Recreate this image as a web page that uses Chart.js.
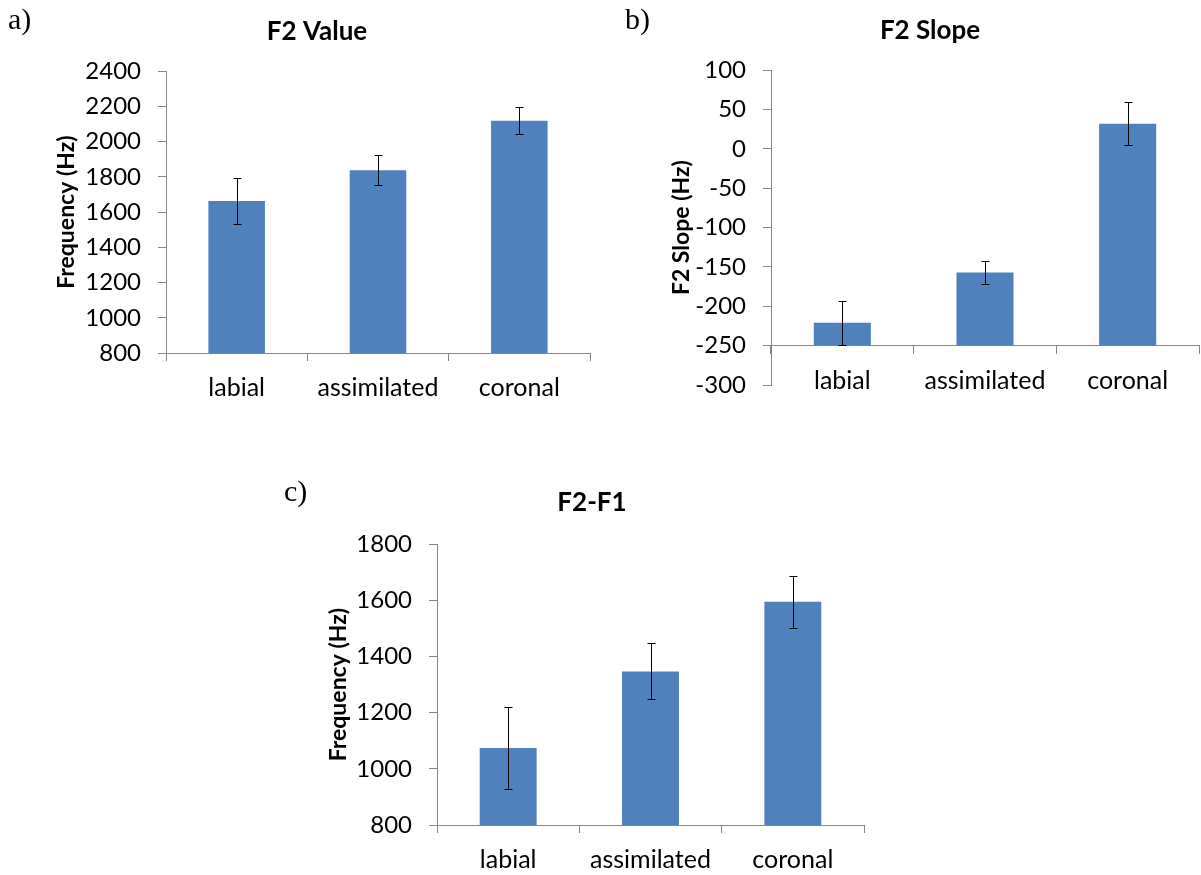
<!DOCTYPE html>
<html>
<head>
<meta charset="utf-8">
<script src="https://cdn.jsdelivr.net/npm/chart.js@4.4.1/dist/chart.umd.min.js"></script>
<style>
  body { margin: 0; background: #fff; }
  #page { position: relative; width: 1201px; height: 875px; overflow: hidden; background: #fff; }
  canvas { position: absolute; }
  .panel { position: absolute; z-index: 2; font-family: "Liberation Serif", serif; font-size: 30px; line-height: 30px; color: #000; }
</style>
</head>
<body>
<div id="page">
  <canvas id="chartA" width="634" height="420" style="left:0;top:0"></canvas>
  <canvas id="chartB" width="601" height="420" style="left:600px;top:0"></canvas>
  <canvas id="chartC" width="620" height="405" style="left:270px;top:470px"></canvas>
  <div class="panel" style="left:8px;top:4px">a)</div>
  <div class="panel" style="left:625px;top:4px">b)</div>
  <div class="panel" style="left:284px;top:476px">c)</div>
</div>
<script>
// data
const categories = ['labial', 'assimilated', 'coronal'];

const f2Value = [1663, 1837, 2119];
const f2ValueErr = [130, 85, 77];

const f2Slope = [-221, -157, 32];
const f2SlopeErr = [28, 15, 27];

const f2f1 = [1074, 1347, 1595];
const f2f1Err = [147, 100, 92];

const BAR_BLUE = '#4f81bd';
const AXIS_GREY = '#868686';

// draws the black whiskers on top of each bar
const errorBars = {
  id: 'errorBars',
  afterDatasetsDraw(chart) {
    const ctx = chart.ctx;
    const yScale = chart.scales.y;
    const ds = chart.data.datasets[0];
    const meta = chart.getDatasetMeta(0);
    ctx.save();
    ctx.strokeStyle = '#000';
    ctx.lineWidth = 1;
    meta.data.forEach((bar, i) => {
      const v = ds.data[i];
      const e = ds.errors[i];
      const x = Math.round(bar.x) + 0.5;
      const yTop = Math.round(yScale.getPixelForValue(v + e)) + 0.5;
      const yBot = Math.round(yScale.getPixelForValue(v - e)) + 0.5;
      ctx.beginPath();
      ctx.moveTo(x, yTop); ctx.lineTo(x, yBot);
      ctx.moveTo(x - 4, yTop); ctx.lineTo(x + 4, yTop);
      ctx.moveTo(x - 4, yBot); ctx.lineTo(x + 4, yBot);
      ctx.stroke();
    });
    ctx.restore();
  }
};

function makeChart(id, cfg) {
  const ctx = document.getElementById(id).getContext('2d');
  const xScale = {
    type: 'category',
    grid: { offset: true, drawOnChartArea: false, drawTicks: true, tickLength: 8, color: AXIS_GREY },
    border: { display: true, color: AXIS_GREY, width: 1 },
    ticks: { color: '#000', padding: 12, font: { family: 'Lato', size: 25 } }
  };
  if (cfg.xPosition) xScale.position = cfg.xPosition;
  if (cfg.xHeight) xScale.afterFit = s => { s.height = cfg.xHeight; };

  return new Chart(ctx, {
    type: 'bar',
    data: {
      labels: categories,
      datasets: [{
        data: cfg.values,
        errors: cfg.errors,
        base: cfg.base,
        backgroundColor: BAR_BLUE,
        borderWidth: 0,
        barPercentage: 0.4,
        categoryPercentage: 1.0
      }]
    },
    options: {
      responsive: false,
      animation: false,
      devicePixelRatio: 1,
      layout: { padding: cfg.padding },
      plugins: {
        legend: { display: false },
        tooltip: { enabled: false },
        title: {
          display: true,
          text: cfg.title,
          color: '#000',
          font: { family: 'Lato', size: 26, weight: 'bold' },
          padding: cfg.titlePadding
        }
      },
      scales: {
        x: xScale,
        y: {
          min: cfg.min,
          max: cfg.max,
          afterFit: s => { s.width = cfg.yWidth; },
          grid: { drawOnChartArea: false, drawTicks: true, tickLength: 8, color: AXIS_GREY },
          border: { display: true, color: AXIS_GREY, width: 1 },
          ticks: {
            stepSize: cfg.step, color: '#000', padding: 17,
            font: { family: 'Lato', size: 24 },
            callback: v => String(v)
          },
          title: {
            display: true,
            text: cfg.yTitle,
            color: '#000',
            font: { family: 'Lato', size: 23, weight: 'bold' },
            padding: { top: cfg.yTitlePad, bottom: 0 }
          }
        }
      }
    },
    plugins: [errorBars]
  });
}

makeChart('chartA', {
  title: 'F2 Value', yTitle: 'Frequency (Hz)',
  values: f2Value, errors: f2ValueErr,
  min: 800, max: 2400, step: 200,
  padding: { left: 44, right: 44, top: 0, bottom: 0 },
  titlePadding: { top: 16, bottom: 24 },
  yWidth: 122, yTitlePad: 9, xHeight: 67
});

makeChart('chartB', {
  title: 'F2 Slope', yTitle: 'F2 Slope (Hz)',
  values: f2Slope, errors: f2SlopeErr, base: -250,
  min: -300, max: 100, step: 50,
  padding: { left: 61, right: 2, top: 0, bottom: 35 },
  titlePadding: { top: 15, bottom: 24 },
  yWidth: 110, yTitlePad: 7,
  xPosition: { y: -250 }
});

makeChart('chartC', {
  title: 'F2-F1', yTitle: 'Frequency (Hz)',
  values: f2f1, errors: f2f1Err,
  min: 800, max: 1800, step: 200,
  padding: { left: 50, right: 26, top: 0, bottom: 0 },
  titlePadding: { top: 17, bottom: 26 },
  yWidth: 117, yTitlePad: 5, xHeight: 50
});
</script>
</body>
</html>
